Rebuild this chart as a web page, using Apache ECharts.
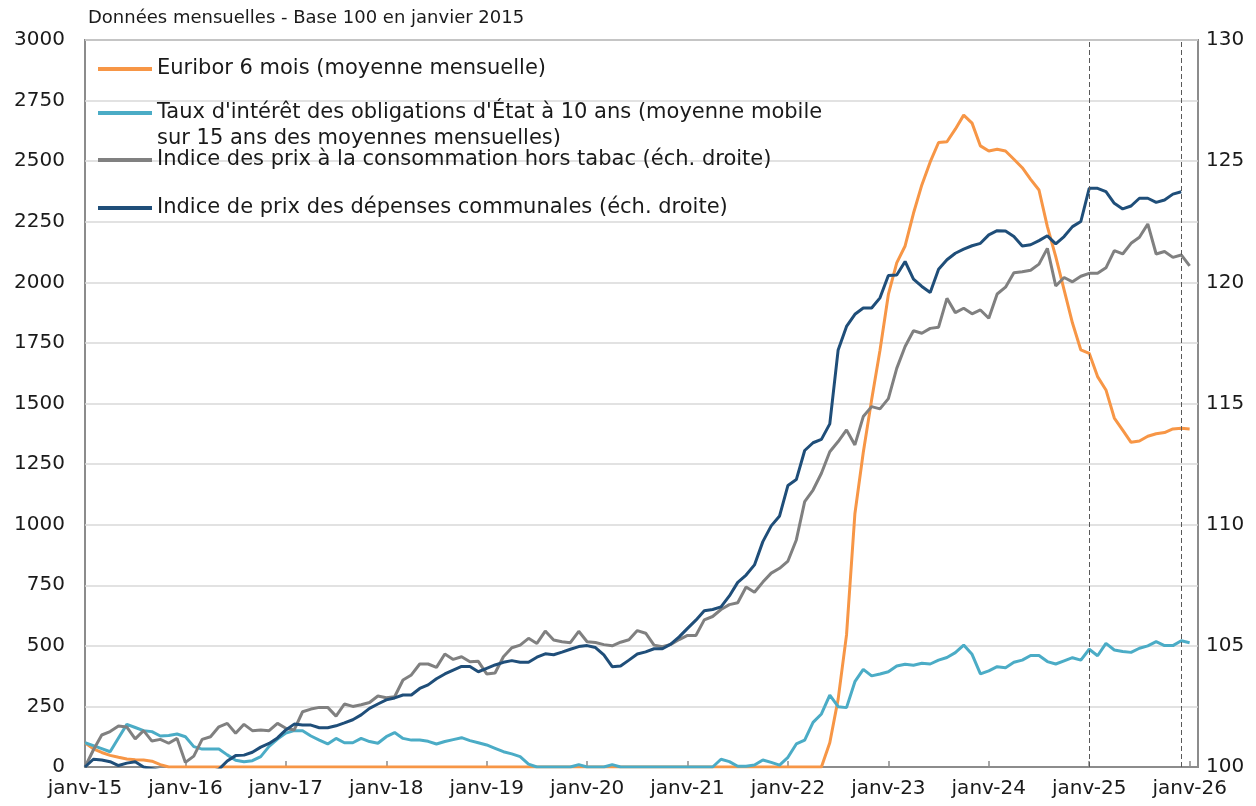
<!DOCTYPE html>
<html>
<head>
<meta charset="utf-8">
<title>Euribor et indices de prix</title>
<script src="https://cdn.jsdelivr.net/npm/echarts@6/dist/echarts.min.js"></script>
</head>
<body style="margin:0">
<div id="main" style="width:1256px;height:806px;"></div>
<script>
// mois affichés sur l'axe (janv-15 -> févr-26)
var moisNoms = ['janv', 'févr', 'mars', 'avr', 'mai', 'juin', 'juil', 'août', 'sept', 'oct', 'nov', 'déc'];
var annees = ['15', '16', '17', '18', '19', '20', '21', '22', '23', '24', '25', '26'];
var nbMois = 134;

var noms = [
  'Euribor 6 mois (moyenne mensuelle)',
  "Taux d'intérêt des obligations d'État à 10 ans (moyenne mobile sur 15 ans des moyennes mensuelles)",
  'Indice des prix à la consommation hors tabac (éch. droite)',
  'Indice de prix des dépenses communales (éch. droite)'
];

// échelle gauche
var euribor = [
  100, 75, 60, 48, 40, 33, 30, 29, 24, 10, 0, 0,
  0, 0, 0, 0, 0, 0, 0, 0, 0, 0, 0, 0,
  0, 0, 0, 0, 0, 0, 0, 0, 0, 0, 0, 0,
  0, 0, 0, 0, 0, 0, 0, 0, 0, 0, 0, 0,
  0, 0, 0, 0, 0, 0, 0, 0, 0, 0, 0, 0,
  0, 0, 0, 0, 0, 0, 0, 0, 0, 0, 0, 0,
  0, 0, 0, 0, 0, 0, 0, 0, 0, 0, 0, 0,
  0, 0, 0, 0, 0, 100, 280, 545, 1045, 1298, 1515, 1720,
  1950, 2080, 2150, 2285, 2402, 2497, 2577, 2580, 2632, 2690, 2657, 2563,
  2542, 2549, 2542, 2508, 2473, 2425, 2381, 2230, 2106, 1969, 1832, 1721,
  1707, 1611, 1556, 1440, 1390, 1340, 1345, 1365, 1375, 1380, 1395, 1398,
  1395
];
var tauxOat = [
  100, 88, 76, 63, 120, 176, 163, 150, 146, 128, 130, 136,
  125, 84, 74, 74, 74, 50, 28, 22, 26, 43, 85, 115,
  140, 150, 150, 128, 111, 95, 118, 100, 100, 118, 105, 98,
  125, 142, 118, 111, 111, 106, 95, 105, 113, 121, 109, 100,
  91, 77, 63, 54, 43, 12, 0, 0, 0, 0, 0, 10,
  0, 0, 0, 10, 0, 0, 0, 0, 0, 0, 0, 0,
  0, 0, 0, 0, 32, 22, 3, 3, 8, 29, 19, 8,
  40, 95, 111, 184, 219, 297, 249, 245, 352, 403, 376, 384,
  393, 417, 424, 420, 428, 425, 441, 452, 472, 503, 465, 384,
  397, 414, 410, 432, 441, 460, 460, 435, 425, 438, 451, 441,
  486, 459, 510, 483, 477, 473, 490, 500, 517, 501, 501, 521,
  513
];

// échelle droite
var ipcHorsTabac = [
  100.0, 100.7, 101.32, 101.46, 101.69, 101.65, 101.16, 101.5, 101.07, 101.14, 100.98, 101.18,
  100.19, 100.45, 101.14, 101.25, 101.66, 101.8, 101.39, 101.76, 101.5, 101.53, 101.5, 101.8,
  101.6, 101.53, 102.28, 102.39, 102.46, 102.46, 102.1, 102.6, 102.5, 102.57, 102.66, 102.93,
  102.86, 102.9, 103.59, 103.8, 104.25, 104.25, 104.11, 104.66, 104.44, 104.55, 104.34, 104.36,
  103.84, 103.88, 104.55, 104.92, 105.03, 105.31, 105.1, 105.61, 105.24, 105.17, 105.13, 105.6,
  105.17, 105.14, 105.05, 105.0, 105.15, 105.25, 105.63, 105.52, 105.03, 104.96, 105.06, 105.26,
  105.43, 105.43, 106.07, 106.21, 106.5, 106.7, 106.78, 107.43, 107.21, 107.63, 108.0, 108.2,
  108.5, 109.37, 110.95, 111.43, 112.12, 113.01, 113.43, 113.91, 113.29, 114.46, 114.87, 114.78,
  115.2, 116.45, 117.35, 118.0, 117.9, 118.1, 118.15, 119.34, 118.75, 118.93, 118.7, 118.86,
  118.52, 119.52, 119.8, 120.4, 120.44, 120.5, 120.75, 121.4, 119.85, 120.2, 120.02, 120.25,
  120.37, 120.37, 120.6, 121.31, 121.17, 121.61, 121.86, 122.41, 121.17, 121.27, 121.03, 121.13,
  120.68
];
var prixCommunes = [
  100.0, 100.32, 100.29, 100.22, 100.06, 100.16, 100.22, 100.0, 99.93, 99.85, 99.8, 99.75,
  99.72, 99.72, 99.75, 99.8, 99.9, 100.25, 100.47, 100.49, 100.61, 100.82, 100.97, 101.2,
  101.53, 101.77, 101.73, 101.73, 101.62, 101.62, 101.7, 101.82, 101.95, 102.15, 102.42, 102.6,
  102.77, 102.85, 102.97, 102.97, 103.24, 103.39, 103.64, 103.84, 104.0, 104.15, 104.15, 103.93,
  104.07, 104.21, 104.32, 104.39, 104.32, 104.32, 104.53, 104.67, 104.63, 104.74, 104.86, 104.97,
  105.01, 104.93, 104.63, 104.14, 104.17, 104.41, 104.66, 104.75, 104.88, 104.88, 105.07, 105.37,
  105.72, 106.06, 106.45, 106.5, 106.61, 107.06, 107.62, 107.92, 108.34, 109.3, 109.95, 110.36,
  111.62, 111.86, 113.06, 113.38, 113.52, 114.16, 117.21, 118.18, 118.68, 118.94, 118.94, 119.36,
  120.28, 120.3, 120.86, 120.13, 119.83, 119.58, 120.54, 120.93, 121.2, 121.37, 121.51, 121.61,
  121.96, 122.13, 122.12, 121.89, 121.5, 121.55, 121.72, 121.92, 121.59, 121.89, 122.3, 122.51,
  123.88, 123.88, 123.74, 123.26, 123.03, 123.15, 123.47, 123.47, 123.3, 123.4, 123.64, 123.74
];

var reperes = ['janv-25', 'déc-25'];
var couleurs = ['#F79646', '#4BACC6', '#808080', '#1F4E79'];

var categories = [];
annees.forEach(function (a) {
  moisNoms.forEach(function (m) {
    if (categories.length < nbMois) categories.push(m + '-' + a);
  });
});

var police = 'DejaVu Sans';
var texte = '#1a1a1a';
var gris = '#8c8c8c';

function legende(i, top, extra) {
  var l = {
    data: [noms[i]],
    left: 98,
    top: top,
    padding: 0,
    icon: 'rect',
    itemWidth: 54,
    itemHeight: 4,
    selectedMode: false,
    textStyle: { fontFamily: police, fontSize: 21, color: texte, lineHeight: 24 }
  };
  if (extra) {
    for (var k in extra) l[k] = extra[k];
  }
  return l;
}

var myChart = echarts.init(document.getElementById('main'));

var option = {
  animation: false,
  color: couleurs,
  textStyle: { fontFamily: police },
  title: {
    text: 'Données mensuelles - Base 100 en janvier 2015',
    left: 88,
    top: 9,
    padding: 0,
    textStyle: { fontFamily: police, fontSize: 18, fontWeight: 'normal', color: texte }
  },
  legend: [
    legende(0, 57),
    // ligne vide en tête pour caler le symbole sur la 1re ligne du libellé
    legende(1, 74, {
      formatter: function (name) { return '\n' + name.replace(' sur 15', '\nsur 15'); },
      textStyle: { fontFamily: police, fontSize: 21, color: texte, lineHeight: 26 }
    }),
    legende(2, 148),
    legende(3, 196)
  ],
  grid: {
    left: 85,
    right: 58,
    top: 40,
    bottom: 39,
    show: true,
    borderColor: gris,
    borderWidth: 2
  },
  xAxis: {
    type: 'category',
    data: categories,
    boundaryGap: false,
    axisLine: { lineStyle: { color: gris, width: 2 } },
    axisTick: { interval: 11, inside: true, length: 6, lineStyle: { color: gris, width: 1.5 } },
    axisLabel: { interval: 11, fontSize: 20, color: texte, margin: 12, fontFamily: police },
    splitLine: { show: false }
  },
  yAxis: [
    {
      type: 'value',
      min: 0,
      max: 3000,
      interval: 250,
      axisLine: { show: false },
      axisTick: { show: false },
      axisLabel: {
        fontSize: 20, color: texte, margin: 20, fontFamily: police,
        formatter: function (v) { return String(v); }
      },
      splitLine: { lineStyle: { color: '#d9d9d9', width: 1.5 } }
    },
    {
      type: 'value',
      min: 100,
      max: 130,
      interval: 5,
      axisLine: { show: false },
      axisTick: { show: false },
      axisLabel: {
        fontSize: 20, color: texte, margin: 8, fontFamily: police,
        formatter: function (v) { return String(v); }
      },
      splitLine: { show: false }
    }
  ],
  series: [
    {
      name: noms[0],
      type: 'line',
      data: euribor,
      showSymbol: false,
      lineStyle: { width: 3 },
      markLine: {
        silent: true,
        symbol: 'none',
        label: { show: false },
        lineStyle: { type: [5, 3], color: '#595959', width: 1 },
        data: reperes.map(function (r) { return { xAxis: r }; })
      }
    },
    {
      name: noms[1],
      type: 'line',
      data: tauxOat,
      showSymbol: false,
      lineStyle: { width: 3 }
    },
    {
      name: noms[2],
      type: 'line',
      yAxisIndex: 1,
      data: ipcHorsTabac,
      showSymbol: false,
      lineStyle: { width: 3 }
    },
    {
      name: noms[3],
      type: 'line',
      yAxisIndex: 1,
      data: prixCommunes,
      showSymbol: false,
      lineStyle: { width: 3 }
    }
  ]
};

myChart.setOption(option);
</script>
</body>
</html>
